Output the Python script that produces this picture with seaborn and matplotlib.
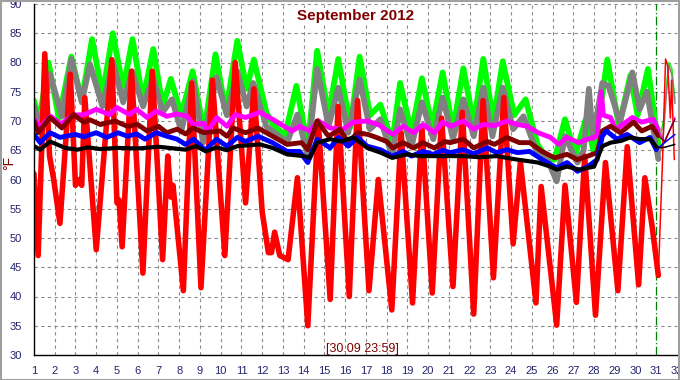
import numpy as np
import pandas as pd
import matplotlib
matplotlib.use("Agg")
import matplotlib.pyplot as plt
import seaborn as sns
from matplotlib.ticker import MultipleLocator
from matplotlib.patches import Rectangle
from matplotlib import font_manager

# ---------------- data ----------------
red_x = [1.0, 1.2, 1.52, 1.75, 1.95, 2.25, 2.5, 2.75, 3.0, 3.2, 3.3, 3.45, 4.0, 4.75, 5.0, 5.1, 5.25,
         5.7, 6.25, 6.7, 7.2, 7.45, 7.6, 7.7, 8.2, 8.6, 9.05, 9.6, 10.2, 10.7, 11.2, 11.6, 12.0, 12.3,
         12.45, 12.6, 12.85, 13.25, 13.7, 14.2, 14.7, 15.28, 15.66, 16.2, 16.6, 16.85, 17.15, 17.6,
         18.25, 18.7, 19.25, 19.7, 20.2, 20.65, 21.2, 21.65, 22.2, 22.65, 23.15, 23.65, 24.1, 24.45,
         25.2, 25.45, 26.2, 26.6, 27.15, 27.55, 28.07, 28.55, 29.15, 29.6, 30.15, 30.45, 30.8, 31.1]
red_y = [61, 47, 81.5, 64, 60, 52.5, 65, 78, 59, 60, 59, 74, 48, 80.5, 56, 56.5, 48.5,
         78.5, 44, 78.5, 46.3, 64, 57, 59, 41, 76.5, 41.5, 77, 47, 80, 56, 75.5, 54.5, 47.5,
         47.5, 51, 47, 46.3, 60.3, 35, 70, 39.5, 72.5, 40, 73.5, 58.5, 41, 60,
         37.7, 68, 38.9, 69, 40.6, 70.5, 41.7, 71.5, 37, 73.5, 43.2, 74, 49, 63,
         38.9, 58.8, 35.1, 59, 39, 64, 36.8, 62.9, 41, 65.6, 42, 60.3, 52, 43.6]
red_oct_x = [31.1, 31.3, 31.45, 31.55, 31.68, 31.74, 31.87]
red_oct_y = [43.6, 63, 80.6, 79.5, 70.5, 77, 63.4]

green_x = [1.0, 1.25, 1.7, 2.2, 2.8, 3.3, 3.8, 4.3, 4.8, 5.3, 5.75, 6.25, 6.75, 7.2, 7.6, 8.1, 8.65,
           9.2, 9.75, 10.25, 10.8, 11.25, 11.6, 12.2, 12.5, 13.1, 13.65, 14.2, 14.65, 15.2, 15.67,
           16.25, 16.7, 17.2, 17.7, 18.27, 18.65, 19.2, 19.7, 20.2, 20.7, 21.2, 21.7, 22.2, 22.66,
           23.15, 23.6, 24.15, 24.7, 25.27, 25.75, 26.1, 26.6, 27.1, 27.6, 28.0, 28.64, 29.2, 29.75,
           30.1, 30.6, 31.1]
green_y = [73.5, 70, 80, 70.5, 81, 73.5, 84, 74.5, 85, 75.5, 84, 73.5, 82.3, 72.5, 77.2, 71, 78.5,
           68, 81.4, 71.5, 83.7, 75.5, 80.5, 71.5, 69.5, 67.5, 76, 65.6, 82, 71, 80.6,
           69, 81, 71, 72.8, 66.3, 76.5, 68, 77.3, 69, 78.3, 68.5, 79, 69.5, 80.6,
           70, 80.2, 71, 73.7, 66, 63.5, 63.4, 70.3, 64.2, 70.3, 64.6, 80.5, 69.1, 77.8,
           71, 78.9, 66]
green_oct_x = [31.1, 31.35, 31.6, 31.75, 31.9]
green_oct_y = [66, 70, 80, 79, 73.7]

gray_x = [1.0, 1.3, 1.77, 2.35, 2.8, 3.3, 3.7, 4.3, 4.8, 5.3, 5.73, 6.26, 6.74, 7.2, 7.65, 8.1, 8.67,
          9.15, 9.8, 10.3, 10.8, 11.25, 11.57, 12.2, 12.6, 13.2, 13.7, 14.2, 14.65, 15.2, 15.67,
          16.15, 16.7, 17.2, 17.7, 18.27, 18.65, 19.2, 19.7, 20.25, 20.7, 21.2, 21.7, 22.2, 22.66,
          23.1, 23.6, 24.1, 24.6, 25.2, 25.75, 26.2, 26.6, 27.2, 27.5, 27.75, 27.95, 28.4, 28.7,
          29.25, 29.85, 30.2, 30.55, 31.1]
gray_y = [72.5, 69, 78, 70.8, 80.6, 73.2, 79.7, 72.5, 80, 73.2, 78.5, 72.5, 77.5, 71.5, 73.7, 68.3, 76.8,
          66.3, 77.5, 71, 78.5, 72.5, 76.5, 69.1, 68, 66.3, 71.1, 64, 78.9, 69.1, 75.7,
          68, 77.1, 68.6, 70.3, 64, 72, 65.6, 73.2, 66.9, 74, 67, 73.7, 67.4, 75.7,
          67.4, 75.7, 68.6, 70.8, 65.1, 63.4, 59.7, 67.4, 62.9, 65, 75.5, 67, 76.5, 76,
          69.8, 78.3, 72, 75, 63.5]
gray_oct_x = [31.1, 31.3, 31.6, 31.75, 31.9]
gray_oct_y = [63.5, 66, 79.5, 78, 73]

magenta_x = [1.0, 1.3, 1.8, 2.3, 2.9, 3.45, 4.0, 4.65, 5.0, 5.6, 5.95, 6.45, 6.9, 7.4, 7.9, 8.4, 8.67,
             9.2, 9.35, 9.8, 10.3, 10.7, 11.2, 11.9, 12.5, 13.2, 13.45, 13.8, 14.3, 14.7, 15.28,
             15.9, 16.4, 17.06, 17.6, 18.3, 18.8, 19.3, 19.75, 20.3, 20.7, 21.1, 21.7, 22.2, 22.66,
             23.2, 23.8, 24.3, 24.8, 25.3, 25.9, 26.3, 26.7, 27.25, 27.7, 28.15, 28.35, 28.45, 28.8,
             29.05, 29.27, 29.85, 30.3, 30.85, 31.1]
magenta_y = [70.3, 69, 70.8, 69.5, 71, 71.1, 72, 71.1, 72.3, 71.1, 72, 70.6, 71.7, 70.8, 71.2, 70.8, 69.4,
             69.6, 68, 70.6, 69.1, 71.1, 70.6, 71.5, 70.3, 68.8, 68.3, 69.1, 68.3, 70, 68.8,
             68.6, 69.8, 70, 69.4, 67.7, 69.1, 68, 69.4, 68, 69.8, 69.1, 70, 68.6, 69.4,
             69.2, 70, 69.4, 69.1, 68, 67.2, 66, 67.2, 66.3, 66.9, 67.4, 75, 71, 70.6,
             68.5, 69.1, 70.6, 69.8, 70.3, 68.5]
magenta_oct_x = [31.1, 31.4, 31.9]
magenta_oct_y = [68.5, 66.3, 70.6]

maroon_x = [1.0, 1.2, 1.77, 2.35, 2.9, 3.4, 3.7, 4.2, 4.9, 5.5, 6.0, 6.45, 7.0, 7.4, 7.9, 8.3, 8.67,
            9.2, 9.97, 10.3, 10.6, 11.2, 11.8, 12.5, 13.2, 13.9, 14.2, 14.65, 15.2, 15.76, 16.15,
            16.6, 17.1, 17.5, 18.0, 18.3, 18.8, 19.3, 19.75, 20.3, 20.8, 21.07, 21.7, 22.2, 22.85,
            23.2, 23.8, 24.4, 24.9, 25.5, 26.1, 26.7, 27.2, 27.7, 28.15, 28.4, 28.8, 29.27, 29.9,
            30.3, 30.8, 31.1]
maroon_y = [70, 68, 70.6, 68.8, 71.1, 69.8, 70.2, 69.4, 70, 69.1, 69.4, 68.3, 69.1, 68, 68.6, 67.8, 68.8,
            68, 68.3, 67.4, 68.8, 68, 68.8, 67.4, 66, 66.3, 65.1, 70, 67.4, 68.6, 66.3,
            68, 67.7, 67.2, 66.5, 65.4, 66.3, 65.4, 66.3, 65.4, 66.5, 66.3, 66.9, 65.4, 66.5,
            66, 67.2, 66.3, 66.3, 64.8, 63.7, 64.3, 63.4, 64, 64.6, 68.3, 69.1, 68, 69.8,
            68.3, 69.1, 67.5]
maroon_oct_x = [31.1, 31.4, 31.9]
maroon_oct_y = [67.5, 66.5, 70.3]

blue_x = [1.0, 1.3, 1.77, 2.25, 3.0, 3.4, 4.0, 4.5, 5.05, 5.5, 5.95, 6.35, 6.9, 7.4, 7.9, 8.3, 8.7,
          9.25, 9.8, 10.3, 10.8, 11.2, 11.8, 12.5, 13.2, 13.8, 14.2, 14.65, 15.28, 15.67, 16.15,
          16.6, 17.06, 17.7, 18.27, 18.8, 19.2, 19.75, 20.25, 20.7, 21.07, 21.7, 22.2, 22.85, 23.3,
          23.8, 24.3, 24.9, 25.5, 26.2, 26.7, 27.2, 27.7, 28.15, 28.4, 28.6, 29.1, 29.6, 30.2,
          30.7, 31.0]
blue_y = [67.7, 66.3, 68, 67.2, 67.7, 67.3, 68, 67.2, 68, 67.4, 67.8, 66.9, 68, 67.4, 66.9, 66, 66.9,
          65, 66.9, 65.7, 67.2, 66.5, 67.4, 66.3, 64.8, 64.8, 62.9, 66.9, 65.4, 67.2, 65.7,
          67.2, 65.7, 65.1, 64, 64.8, 64, 64.8, 64.3, 65, 64.6, 65.1, 64.4, 65.4, 64.6,
          65.1, 64.6, 64.8, 63.4, 62, 62.9, 61.4, 62.2, 63.4, 67.4, 68.3, 66.9, 67.7, 66.3,
          67.2, 65.1]
blue_oct_x = [31.0, 31.3, 31.9]
blue_oct_y = [65.1, 66, 67.7]

black_x = [1.0, 1.3, 1.77, 2.5, 3.1, 3.6, 4.2, 5.0, 6.0, 7.0, 8.3, 8.8, 9.3, 9.8, 10.3, 10.8, 11.9,
           12.5, 13.2, 14.0, 14.3, 14.65, 15.28, 15.8, 16.4, 17.06, 17.7, 18.27, 19.0, 19.6, 20.3,
           20.9, 21.7, 22.5, 23.3, 24.3, 25.3, 25.9, 26.2, 26.7, 27.3, 28.0, 28.4, 28.8, 29.3,
           29.75, 30.2, 30.7, 31.05]
black_y = [65.7, 65.1, 66.5, 65.4, 65.1, 65.5, 65.2, 65.4, 65.3, 65.6, 65.1, 65.7, 64.8, 65.5, 65, 65.7, 66,
           65.4, 64.3, 64, 63.7, 66.3, 66.9, 66.5, 67.2, 65.4, 64.6, 63.7, 64.3, 64, 64,
           64, 64, 63.8, 64, 63.4, 62.9, 62.2, 61.7, 62.2, 61.7, 62.2, 65.7, 66.3, 66.6,
           67.2, 66.9, 66.9, 65.4]
black_oct_x = [31.05, 31.4, 31.9]
black_oct_y = [65.4, 65.5, 66]

x_ticks = list(range(1, 33))
y_ticks = list(range(30, 95, 5))
title_text = "September 2012"
stamp_text = "[30.09 23:59]"
y_label = "°F"

# ---------------- figure ----------------
sns.set_style("white")
plt.rcParams['font.family'] = ['Liberation Sans', 'DejaVu Sans']

installed = {f.name for f in font_manager.fontManager.ttflist}
stamp_family = ['Liberation Sans Narrow', 'Liberation Sans'] if 'Liberation Sans Narrow' in installed \
    else ['Liberation Sans', 'DejaVu Sans']

fig = plt.figure(figsize=(6.8, 3.8), dpi=100)
ax = fig.add_axes([34 / 680, 25 / 380, 643 / 680, 351 / 380])

series = [
    (green_x, green_y, green_oct_x, green_oct_y, "#00ff00", 4.2),
    (gray_x, gray_y, gray_oct_x, gray_oct_y, "#808080", 4.2),
    (red_x, red_y, red_oct_x, red_oct_y, "#ff0000", 4.0),
    (magenta_x, magenta_y, magenta_oct_x, magenta_oct_y, "#ff00ff", 3.5),
    (maroon_x, maroon_y, maroon_oct_x, maroon_oct_y, "#800000", 3.5),
    (blue_x, blue_y, blue_oct_x, blue_oct_y, "#0000ff", 3.5),
    (black_x, black_y, black_oct_x, black_oct_y, "#000000", 3.0),
]

for sx, sy, ox, oy, col, lw in series:
    df = pd.DataFrame({"day": sx, "temp": sy})
    sns.lineplot(data=df, x="day", y="temp", ax=ax, color=col, linewidth=lw,
                 sort=False, estimator=None, solid_joinstyle="round", solid_capstyle="round")
for sx, sy, ox, oy, col, lw in series:
    dfo = pd.DataFrame({"day": ox, "temp": oy})
    sns.lineplot(data=dfo, x="day", y="temp", ax=ax, color=col, linewidth=1.1,
                 sort=False, estimator=None)

ax.set_xlim(1, 32)
ax.set_ylim(30, 90)
ax.set_xlabel("")
ax.set_ylabel("")

# grid
for gx in range(2, 31):
    ax.axvline(gx, color="#8c8c8c", lw=0.8, ls=(0, (3, 3)), zorder=0)
for gy in range(35, 91, 5):
    ax.axhline(gy, color="#8c8c8c", lw=0.8, ls=(0, (3, 3)), zorder=0, clip_on=False)
ax.axvline(31, color="#008000", lw=0.9, ls=(0, (7, 2, 1, 2)), zorder=0.5)

# spines & ticks
for s in ["top", "right"]:
    ax.spines[s].set_visible(False)
for s in ["left", "bottom"]:
    ax.spines[s].set_color("black")
    ax.spines[s].set_linewidth(1.0)

ax.set_xticks(x_ticks)
ax.set_xticklabels([str(v) for v in x_ticks])
ax.set_yticks(y_ticks)
ax.set_yticklabels([str(v) for v in y_ticks])
ax.xaxis.set_minor_locator(MultipleLocator(0.25))
ax.yaxis.set_minor_locator(MultipleLocator(1))
ax.tick_params(axis="both", which="major", direction="out", length=7, width=1,
               colors="black", labelcolor="#23236e", labelsize=8, pad=2)
ax.tick_params(axis="both", which="minor", direction="out", length=3.5, width=0.8, colors="black")
ax.tick_params(axis="x", which="major", length=6)

# texts
ax.text(0.5, 0.966, title_text, transform=ax.transAxes, ha="center", va="center",
        fontsize=11, fontweight="bold", color="#800000",
        bbox=dict(facecolor="white", edgecolor="none", pad=1.0), zorder=5)
fig.text(362 / 680, 1 - 349 / 380, stamp_text, ha="center", va="center",
         fontsize=9, color="#800000", family=stamp_family)
fig.text(9 / 680, 1 - 163 / 380, y_label, ha="center", va="center", rotation=90,
         fontsize=10, color="#800000")

# figure frame
fig.patches.append(Rectangle((0.001, 0.001), 0.997, 0.996, transform=fig.transFigure,
                             fill=False, edgecolor="#a0a0a0", linewidth=1.5))

fig.savefig("out.png", dpi=100, facecolor="white")
